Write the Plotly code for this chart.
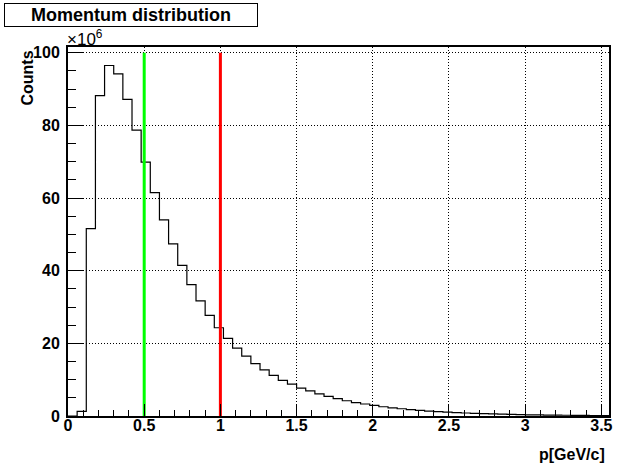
import numpy as np
import plotly.graph_objects as go

# Momentum histogram: 60 bins of 0.06 GeV/c starting at 0, counts in units of 10^6
bin_width = 0.06
counts_millions = [
    0.0, 1.3, 51.6, 88.2, 96.5, 94.2, 87.2, 78.7, 69.9, 61.5,
    54.0, 47.4, 41.5, 36.2, 31.7, 27.7, 24.3, 21.4, 18.7, 16.5,
    14.4, 12.7, 11.2, 9.8, 8.8, 7.7, 6.9, 6.1, 5.4, 4.8,
    4.2, 3.7, 3.3, 2.9, 2.55, 2.25, 2.0, 1.75, 1.55, 1.35,
    1.2, 1.05, 0.92, 0.82, 0.72, 0.63, 0.56, 0.49, 0.43, 0.38,
    0.33, 0.29, 0.26, 0.23, 0.2, 0.18, 0.16, 0.14, 0.12, 0.11,
]

# Momentum cuts marked on the distribution
cut_momenta = [0.5, 1.0]
cut_colors = ["#00ff00", "#ff0000"]
cut_top = 100

# Axis ticks
x_tickvals = [0, 0.5, 1, 1.5, 2, 2.5, 3, 3.5]
x_ticktext = ["0", "0.5", "1", "1.5", "2", "2.5", "3", "3.5"]
y_tickvals = [0, 20, 40, 60, 80, 100]
y_ticktext = ["0", "20", "40", "60", "80", "100"]

x_range = [0, 3.55]
y_range = [0, 101.6]

font_family = "Liberation Sans, Arial, Helvetica, sans-serif"

edges = np.arange(len(counts_millions) + 1) * bin_width
step_y = list(counts_millions) + [counts_millions[-1]]

fig = go.Figure()

fig.add_trace(go.Scatter(
    x=edges, y=step_y, mode="lines", line_shape="hv",
    line=dict(color="black", width=1.2), hoverinfo="skip", showlegend=False,
))

for xc, col in zip(cut_momenta, cut_colors):
    fig.add_trace(go.Scatter(
        x=[xc, xc], y=[0, cut_top], mode="lines",
        line=dict(color=col, width=3), hoverinfo="skip", showlegend=False,
    ))

axis_common = dict(
    showline=True, linecolor="black", linewidth=2, mirror=True,
    showgrid=True, gridcolor="black", gridwidth=1, griddash="1px,2px",
    zeroline=False, ticks="inside", tickcolor="black",
    tickfont=dict(family=font_family, size=16, color="black"),
)

fig.update_xaxes(
    range=x_range, tickmode="array", tickvals=x_tickvals,
    ticktext=["<b>%s</b>" % t for t in x_ticktext],
    ticklen=12, tickwidth=1,
    minor=dict(dtick=0.1, tick0=0, ticks="inside", ticklen=6, tickcolor="black", showgrid=False),
    ticklabelstandoff=-6,
    **axis_common,
)
fig.update_yaxes(
    range=y_range, tickmode="array", tickvals=y_tickvals,
    ticktext=["<b>%s</b>" % t for t in y_ticktext],
    ticklen=15, tickwidth=1,
    minor=dict(dtick=5, tick0=0, ticks="inside", ticklen=8, tickcolor="black", showgrid=False),
    ticklabelstandoff=3,
    **axis_common,
)

annotations = [
    # histogram title box
    dict(text="<b>Momentum distribution</b>", xref="paper", yref="paper",
         x=0, y=1, xanchor="left", yanchor="top", xshift=-64, yshift=44,
         showarrow=False, width=250, height=20, borderpad=1,
         bordercolor="black", borderwidth=1, bgcolor="white", align="center",
         font=dict(family=font_family, size=18, color="black")),
    # axis exponent
    dict(text="×10<sup>6</sup>", xref="paper", yref="paper",
         x=0, y=1, xanchor="left", yanchor="bottom", xshift=-3, yshift=-4,
         showarrow=False, font=dict(family=font_family, size=17, color="black")),
    # x-axis title
    dict(text="<b>p[GeV/c]</b>", xref="paper", yref="paper",
         x=1, y=0, xanchor="right", yanchor="top", xshift=-2, yshift=-28,
         showarrow=False, font=dict(family=font_family, size=16, color="black")),
    # y-axis title
    dict(text="<b>Counts</b>", xref="paper", yref="paper",
         x=0, y=1, xanchor="center", yanchor="top", xshift=-41, yshift=-2,
         textangle=-90, showarrow=False,
         font=dict(family=font_family, size=16, color="black")),
]

fig.update_layout(
    width=617, height=469,
    margin=dict(l=68, r=4, t=47, b=53),
    paper_bgcolor="white", plot_bgcolor="white",
    annotations=annotations,
    showlegend=False,
)

fig.write_html("out.html")
